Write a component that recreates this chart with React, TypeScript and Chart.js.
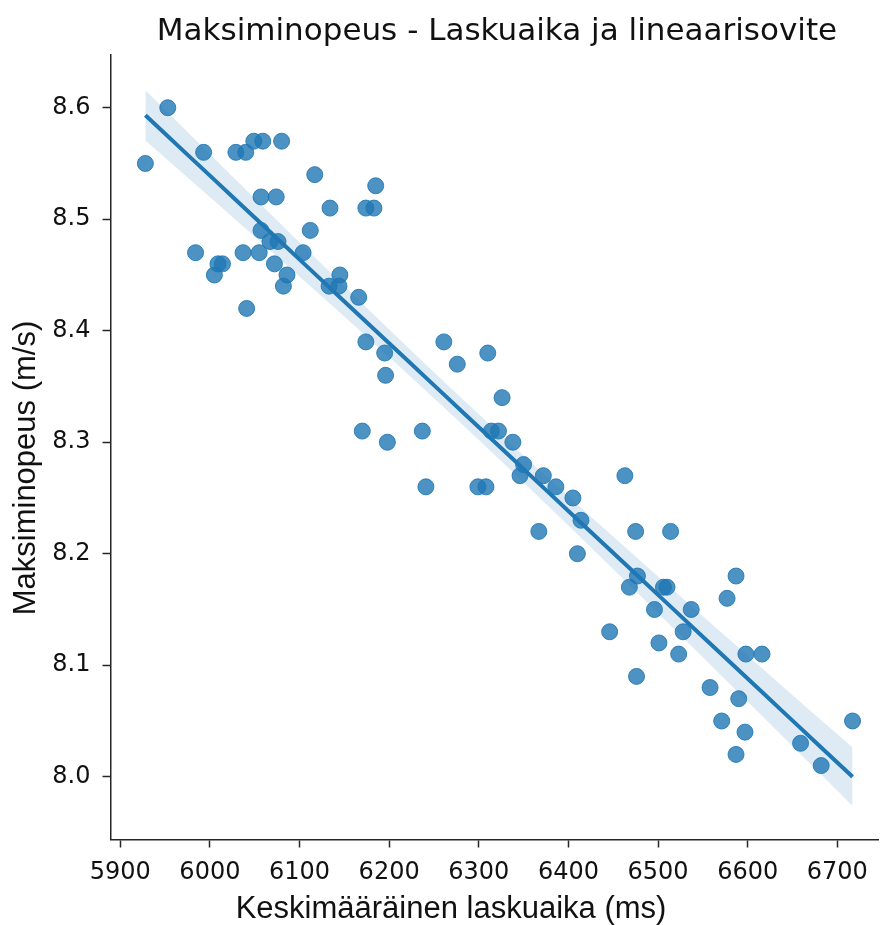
import React, { useEffect, useRef } from "react";
import { Chart, registerables } from "chart.js";

Chart.register(...registerables);

const TITLE = "Maksiminopeus - Laskuaika ja lineaarisovite";
const X_LABEL = "Keskimääräinen laskuaika (ms)";
const Y_LABEL = "Maksiminopeus (m/s)";

const LASKUAIKA_MS = [
  5928, 5953, 5993, 5984, 6005, 6009, 6014, 6029, 6040, 6049, 6059, 6080,
  6037, 6041, 6057, 6074, 6057, 6055, 6067, 6076, 6072, 6086, 6082, 6104,
  6112, 6117, 6134, 6133, 6144, 6145, 6166, 6174, 6170, 6174, 6183, 6185,
  6195, 6196, 6198, 6237, 6241, 6261, 6276, 6299, 6308, 6310, 6314, 6322,
  6326, 6338, 6350, 6346, 6372, 6367, 6386, 6405, 6414, 6410, 6446, 6463,
  6468, 6475, 6477, 6476, 6496, 6501, 6506, 6510, 6514, 6528, 6523, 6537,
  6558, 6571, 6577, 6587, 6590, 6587, 6597, 6598, 6616, 6659, 6682, 6717,
];

const MAKSIMINOPEUS = [
  8.55, 8.6, 8.56, 8.47, 8.45, 8.46, 8.46, 8.56, 8.56, 8.57, 8.57, 8.57,
  8.47, 8.42, 8.52, 8.52, 8.49, 8.47, 8.48, 8.48, 8.46, 8.45, 8.44, 8.47,
  8.49, 8.54, 8.51, 8.44, 8.44, 8.45, 8.43, 8.39, 8.31, 8.51, 8.51, 8.53,
  8.38, 8.36, 8.3, 8.31, 8.26, 8.39, 8.37, 8.26, 8.26, 8.38, 8.31, 8.31,
  8.34, 8.3, 8.28, 8.27, 8.27, 8.22, 8.26, 8.25, 8.23, 8.2, 8.13, 8.27,
  8.17, 8.22, 8.18, 8.09, 8.15, 8.12, 8.17, 8.17, 8.22, 8.13, 8.11, 8.15,
  8.08, 8.05, 8.16, 8.18, 8.07, 8.02, 8.04, 8.11, 8.11, 8.03, 8.01, 8.05,
];

const X_TICK_STEP = 100;
const Y_TICK_STEP = 0.1;

function regression(xs: number[], ys: number[]) {
  const n = xs.length;
  const mx = xs.reduce((a, b) => a + b, 0) / n;
  const my = ys.reduce((a, b) => a + b, 0) / n;
  let sxx = 0;
  let sxy = 0;
  for (let i = 0; i < n; i++) {
    sxx += (xs[i] - mx) ** 2;
    sxy += (xs[i] - mx) * (ys[i] - my);
  }
  const b = sxy / sxx;
  const a = my - b * mx;
  let sse = 0;
  for (let i = 0; i < n; i++) sse += (ys[i] - (a + b * xs[i])) ** 2;
  const s = Math.sqrt(sse / (n - 2));
  const t = 1.99;
  const x0 = Math.min(...xs);
  const x1 = Math.max(...xs);
  const steps = 40;
  const line: { x: number; y: number }[] = [];
  const upper: { x: number; y: number }[] = [];
  const lower: { x: number; y: number }[] = [];
  for (let k = 0; k <= steps; k++) {
    const x = x0 + ((x1 - x0) * k) / steps;
    const yh = a + b * x;
    const se = s * Math.sqrt(1 / n + (x - mx) ** 2 / sxx);
    line.push({ x, y: yh });
    upper.push({ x, y: yh + t * se });
    lower.push({ x, y: yh - t * se });
  }
  return { line, upper, lower };
}

const textPlugin = {
  id: "texts",
  afterDraw(chart: any) {
    const { ctx } = chart;
    ctx.save();
    ctx.fillStyle = "#111";
    ctx.font = '31px "DejaVu Sans"';
    ctx.textAlign = "center";
    ctx.textBaseline = "alphabetic";
    ctx.fillText(TITLE, 497, 40);
    ctx.font = '31px "Liberation Sans"';
    ctx.fillText(X_LABEL, 451, 918);
    ctx.translate(35, 468);
    ctx.rotate(-Math.PI / 2);
    ctx.fillText(Y_LABEL, 0, 0);
    ctx.restore();
  },
};

export default function App() {
  const ref = useRef<HTMLCanvasElement | null>(null);
  useEffect(() => {
    if (!ref.current) return;
    const points = LASKUAIKA_MS.map((x, i) => ({ x, y: MAKSIMINOPEUS[i] }));
    const reg = regression(LASKUAIKA_MS, MAKSIMINOPEUS);
    const blue = "rgba(31,119,180,0.8)";
    const tickFont = { family: "DejaVu Sans", size: 24 };
    const chart = new Chart(ref.current, {
      type: "scatter",
      data: {
        datasets: [
          {
            label: "data",
            data: points,
            backgroundColor: blue,
            borderColor: "rgba(31,119,180,0.85)",
            borderWidth: 1,
            pointRadius: 8,
            order: 3,
          } as any,
          {
            label: "upper",
            data: reg.upper,
            showLine: true,
            pointRadius: 0,
            borderWidth: 0,
            borderColor: "rgba(0,0,0,0)",
            backgroundColor: "rgba(31,119,180,0.15)",
            fill: "+1",
            order: 2,
          } as any,
          {
            label: "lower",
            data: reg.lower,
            showLine: true,
            pointRadius: 0,
            borderWidth: 0,
            borderColor: "rgba(0,0,0,0)",
            fill: false,
            order: 2,
          } as any,
          {
            label: "fit",
            data: reg.line,
            showLine: true,
            pointRadius: 0,
            borderWidth: 4,
            borderColor: "#1f77b4",
            fill: false,
            order: 1,
          } as any,
        ],
      },
      options: {
        responsive: false,
        animation: false,
        layout: { autoPadding: false, padding: { top: 55, right: 2, left: 0, bottom: 0 } },
        plugins: {
          legend: { display: false },
          title: { display: false },
          tooltip: { enabled: false },
        },
        scales: {
          x: {
            type: "linear",
            min: 5889.1,
            max: 6745.4,
            afterFit: (s: any) => {
              s.height = 85.5;
              s.paddingLeft = 0;
              s.paddingRight = 0;
            },
            grid: {
              drawOnChartArea: false,
              drawTicks: true,
              tickLength: 8,
              tickWidth: 1.5,
              tickColor: "#262626",
            },
            border: { display: true, color: "#262626", width: 1.5 },
            ticks: {
              stepSize: X_TICK_STEP,
              includeBounds: false,
              autoSkip: false,
              maxRotation: 0,
              padding: 11,
              color: "#111",
              font: tickFont,
              callback: (v: any) => String(v),
            },
          },
          y: {
            type: "linear",
            min: 7.9437,
            max: 8.6473,
            afterFit: (s: any) => {
              s.width = 110.5;
              s.paddingTop = 0;
              s.paddingBottom = 0;
            },
            grid: {
              drawOnChartArea: false,
              drawTicks: true,
              tickLength: 8,
              tickWidth: 1.5,
              tickColor: "#262626",
            },
            border: { display: true, color: "#262626", width: 1.5 },
            ticks: {
              stepSize: Y_TICK_STEP,
              includeBounds: false,
              padding: 12,
              color: "#111",
              font: tickFont,
              callback: (v: any) => Number(v).toFixed(1),
            },
          },
        },
      },
      plugins: [textPlugin],
    });
    return () => chart.destroy();
  }, []);
  return (
    <div style={{ position: "fixed", left: 0, top: 0, width: 880, height: 925, background: "#fff" }}>
      <canvas ref={ref} width={880} height={925} style={{ display: "block" }} />
    </div>
  );
}
